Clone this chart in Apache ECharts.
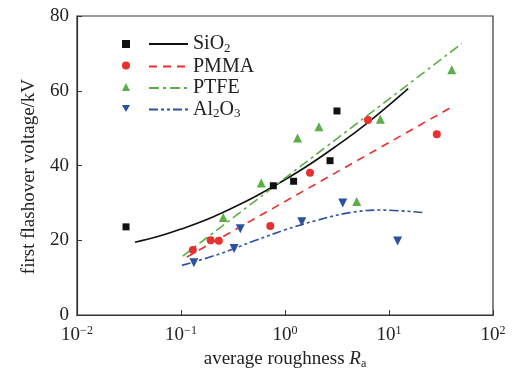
<!DOCTYPE html>
<html>
<head>
<meta charset="utf-8">
<script src="https://cdn.jsdelivr.net/npm/echarts@6/dist/echarts.min.js"></script>
<style>html,body{margin:0;padding:0;background:#fff;}#c{width:512px;height:375px;}</style>
</head>
<body>
<div id="c"></div>
<script>
// Measured points
var sio2Pts = [[0.0296,23.6],[0.772,34.6],[1.21,35.8],[2.71,41.3],[3.16,54.6]];
var pmmaPts = [[0.13,17.4],[0.193,20.0],[0.231,19.9],[0.722,23.8],[1.74,38.1],[6.28,52.2],[28.8,48.4]];
var ptfePts = [[0.255,26.1],[0.591,35.3],[1.32,47.4],[2.12,50.4],[4.89,30.4],[8.26,52.4],[40.1,65.6]];
var al2o3Pts = [[0.133,14.0],[0.324,17.8],[0.372,23.1],[1.45,25.0],[3.59,30.0],[12.1,19.8]];
// Fit curves
var sio2Fit = [[0.0361,19.5],[0.06,21.0],[0.1,23.0],[0.2,26.2],[0.4,30.1],[0.772,34.4],[1.5,39.2],[3,44.9],[6,51.1],[15.3,60.6]];
var pmmaFit = [[0.1135,15.5],[39.2,55.5]];
var ptfeFit = [[0.104,15.8],[50,72.6]];
var al2o3Fit = [[0.102,13.3],[0.237,16.4],[0.5,19.8],[1.0,22.8],[2.0,25.3],[4.2,27.4],[8.2,28.1],[21.5,27.4]];

var seriesNames = ['SiO2','PMMA','PTFE','Al2O3'];
var legendText = {'SiO2':'{n|SiO}{s|2}','PMMA':'{n|PMMA}','PTFE':'{n|PTFE}','Al2O3':'{n|Al}{s|2}{n|O}{s|3}'};
var xTicks = [0.01,0.1,1,10,100];
var yTicks = [0,20,40,60,80];

var FONT = 'Liberation Serif';
var cRed = '#e8302e', cGreen = '#5ab046', cBlue = '#2a52a0', cBlack = '#111111';

var chart = echarts.init(document.getElementById('c'));
var richTxt = {
  n: {fontFamily: FONT, fontSize: 20, color: '#222', lineHeight: 22},
  s: {fontFamily: FONT, fontSize: 13, color: '#222', lineHeight: 22, verticalAlign: 'bottom'}
};
chart.setOption({
  animation: false,
  backgroundColor: '#fff',
  grid: {left: 77, right: 19, top: 16, bottom: 57, show: true, borderColor: '#333', borderWidth: 1.2, backgroundColor: 'transparent'},
  legend: [
    {
      data: [
        {name: 'p-SiO2', icon: 'rect'},
        {name: 'p-PMMA', icon: 'circle'},
        {name: 'p-PTFE', icon: 'triangle'},
        {name: 'p-Al2O3', icon: 'path://M0,0 L10,0 L5,9 Z'}
      ],
      orient: 'vertical', left: 122, top: 34, padding: 0,
      itemWidth: 8, itemHeight: 8, itemGap: 1.5,
      formatter: function(){ return '{n| }'; },
      textStyle: {rich: richTxt}
    },
    {
      data: seriesNames,
      orient: 'vertical', left: 148, top: 34, padding: 0,
      itemWidth: 39, itemHeight: 8, itemGap: 1.5,
      itemStyle: {opacity: 0, borderWidth: 0},
      formatter: function(name){ return legendText[name]; },
      textStyle: {rich: richTxt}
    }
  ],
  xAxis: {
    type: 'log', logBase: 10, min: 0.01, max: 100,
    name: '{n|average roughness }{i|R}{s|a}',
    nameLocation: 'middle', nameGap: 31,
    nameTextStyle: {rich: {
      n: {fontFamily: FONT, fontSize: 19, color: '#222', lineHeight: 22},
      i: {fontFamily: FONT, fontSize: 19, color: '#222', fontStyle: 'italic', lineHeight: 22},
      s: {fontFamily: FONT, fontSize: 12, color: '#222', lineHeight: 22, verticalAlign: 'bottom'}
    }},
    axisLine: {lineStyle: {color: '#333', width: 1.2}},
    axisTick: {inside: true, length: 5, lineStyle: {color: '#333'}},
    minorTick: {show: false},
    splitLine: {show: false},
    axisLabel: {
      margin: 10,
      formatter: function(v){
        var e = Math.round(Math.log10(v));
        return '{b|10}{p|' + (e < 0 ? '\u2212' + (-e) : e) + '}';
      },
      rich: {
        b: {fontFamily: FONT, fontSize: 19, color: '#222', lineHeight: 20},
        p: {fontFamily: FONT, fontSize: 12, color: '#222', lineHeight: 20, verticalAlign: 'top'}
      }
    }
  },
  yAxis: {
    type: 'value', min: 0, max: 80, interval: 20,
    name: 'first flashover voltage/kV',
    nameLocation: 'middle', nameGap: 38, nameRotate: 90,
    nameTextStyle: {fontFamily: FONT, fontSize: 19, color: '#222', padding: [0, 22, 0, 0]},
    axisLine: {show: true, lineStyle: {color: '#333', width: 1.2}},
    axisTick: {show: true, inside: true, length: 5, lineStyle: {color: '#333'}},
    splitLine: {show: false},
    axisLabel: {fontFamily: FONT, fontSize: 19, color: '#222', margin: 8}
  },
  series: [
    {name: 'SiO2', type: 'line', data: sio2Fit, smooth: 0.4, symbol: 'none', lineStyle: {color: cBlack, width: 1.6}, itemStyle: {color: cBlack}},
    {name: 'PMMA', type: 'line', data: pmmaFit, symbol: 'none', lineStyle: {color: cRed, width: 1.6, type: [8,6]}, itemStyle: {color: cRed}},
    {name: 'PTFE', type: 'line', data: ptfeFit, symbol: 'none', lineStyle: {color: cGreen, width: 1.6, type: [10,4,3,4]}, itemStyle: {color: cGreen}},
    {name: 'Al2O3', type: 'line', data: al2o3Fit, smooth: 0.4, symbol: 'none', lineStyle: {color: cBlue, width: 1.6, type: [9,3,3,3,3,3]}, itemStyle: {color: cBlue}},
    {name: 'p-SiO2', type: 'scatter', data: sio2Pts, symbol: 'rect', symbolSize: 7, itemStyle: {color: cBlack, opacity: 1}, z: 3},
    {name: 'p-PMMA', type: 'scatter', data: pmmaPts, symbol: 'circle', symbolSize: 8, itemStyle: {color: cRed, opacity: 1}, z: 3},
    {name: 'p-PTFE', type: 'scatter', data: ptfePts, symbol: 'triangle', symbolSize: 9, itemStyle: {color: cGreen, opacity: 1}, z: 3},
    {name: 'p-Al2O3', type: 'scatter', data: al2o3Pts, symbol: 'triangle', symbolRotate: 180, symbolSize: 9, itemStyle: {color: cBlue, opacity: 1}, z: 3}
  ]
});
</script>
</body>
</html>
